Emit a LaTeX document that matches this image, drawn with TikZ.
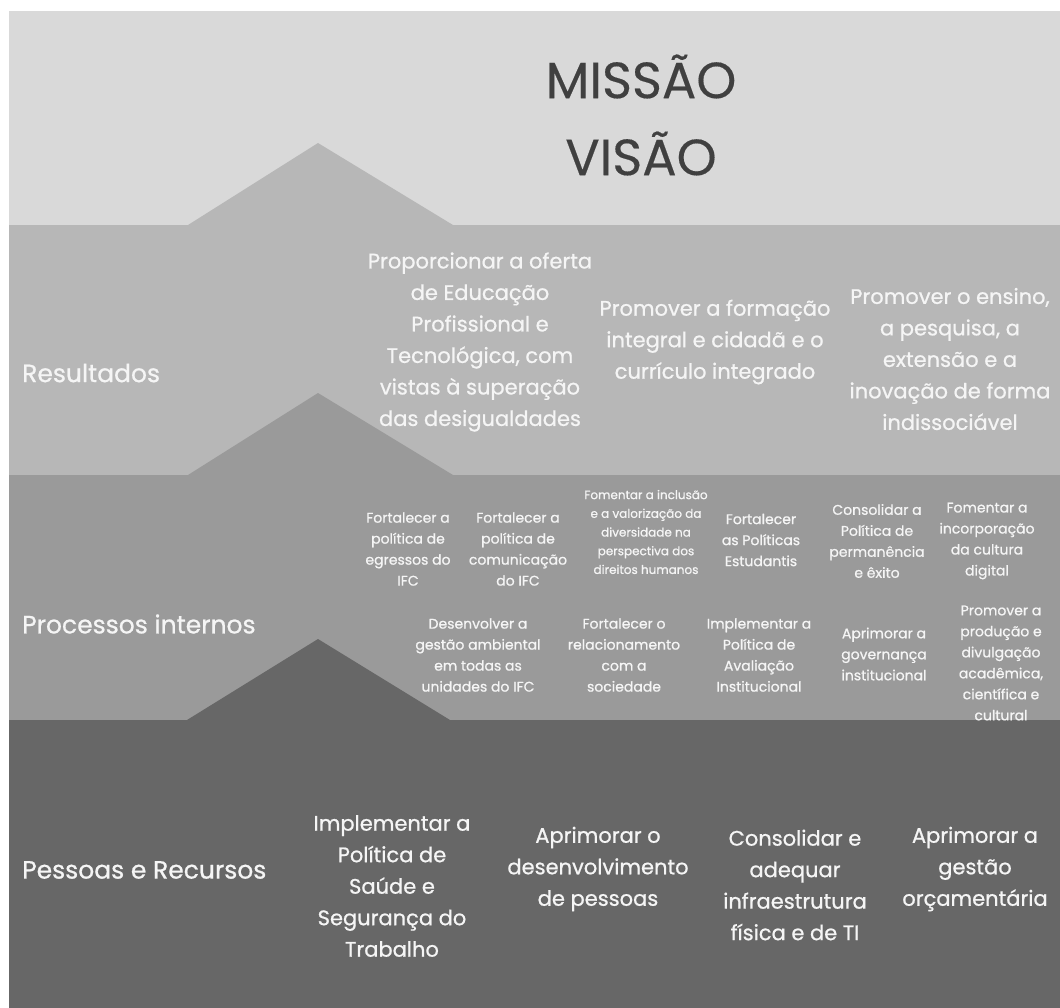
\documentclass[tikz,border=0pt]{standalone}
\usepackage{fontspec}
\setmainfont{Poppins}[FakeBold=0.8]
\newfontfamily\titlefont{Poppins}[FakeBold=0.3]
\definecolor{top}{HTML}{D9D9D9}
\definecolor{res}{HTML}{B7B7B7}
\definecolor{proc}{HTML}{9A9A9A}
\definecolor{pess}{HTML}{676767}
\definecolor{ink}{HTML}{404040}
\definecolor{paper}{HTML}{F5F5F5}

\begin{document}
\begin{tikzpicture}[x=1pt,y=-1pt,
  tier/.style={text=paper,anchor=west,inner sep=0pt,font=\fontsize{25}{30}\selectfont},
  aim/.style={text=paper,align=center,inner sep=0pt,font=\fontsize{21}{31.5}\selectfont},
  act/.style={text=paper,align=center,inner sep=0pt,font=\fontsize{14}{21}\selectfont},
  actsmall/.style={text=paper,align=center,inner sep=0pt,font=\fontsize{12}{18.7}\selectfont}
]
\useasboundingbox[fill=white] (0,0) rectangle (1060,1008);
% bands, from the top down
\fill[top] (9,11) rectangle (1060,225);
\fill[res] (9,225) rectangle (1060,475);
\fill[res] (188,225) -- (318,143) -- (453,225) -- cycle;
\fill[proc] (9,475) rectangle (1060,720);
\fill[proc] (188,475) -- (318,393) -- (453,475) -- cycle;
\fill[pess] (9,720) rectangle (1060,1008);
\fill[pess] (187,720) -- (318,639) -- (450,720) -- cycle;

\node[text=ink,align=center,inner sep=0pt,font=\titlefont\fontsize{51}{77}\selectfont] (mv) at (641,115) {MISSÃO\\VISÃO};

% Resultados
\node[tier] (res) at (22,373) {Resultados};
\node[aim] (r1) at (480,342) {Proporcionar a oferta\\de Educação\\Profissional e\\Tecnológica, com\\vistas à superação\\das desigualdades};
\node[aim] (r2) at (715,342) {Promover a formação\\integral e cidadã e o\\currículo integrado};
\node[aim] (r3) at (950,359) {Promover o ensino,\\a pesquisa, a\\extensão e a\\inovação de forma\\indissociável};

% Processos internos
\node[tier] (proc) at (22,624) {Processos internos};
\node[act] (p1) at (408,549) {Fortalecer a\\política de\\egressos do\\IFC};
\node[act] (p2) at (518,549) {Fortalecer a\\política de\\comunicação\\do IFC};
\node[actsmall] (p3) at (646,532) {Fomentar a inclusão\\e a valorização da\\diversidade na\\perspectiva dos\\direitos humanos};
\node[act] (p4) at (761,540) {Fortalecer\\as Políticas\\Estudantis};
\node[act] (p5) at (877,541) {Consolidar a\\Política de\\permanência\\e êxito};
\node[act] (p6) at (987,541) {Fomentar a\\incorporação\\da cultura\\digital};
\node[act] (p7) at (478,655) {Desenvolver a\\gestão ambiental\\em todas as\\unidades do IFC};
\node[act] (p8) at (624,655) {Fortalecer o\\relacionamento\\com a\\sociedade};
\node[act] (p9) at (759,655) {Implementar a\\Política de\\Avaliação\\Institucional};
\node[act] (p10) at (884,654) {Aprimorar a\\governança\\institucional};
\node[act] (p11) at (1001,663) {Promover a\\produção e\\divulgação\\acadêmica,\\científica e\\cultural};

% Pessoas e Recursos
\node[tier] (pess) at (22,870) {Pessoas e Recursos};
\node[aim] (s1) at (392,886) {Implementar a\\Política de\\Saúde e\\Segurança do\\Trabalho};
\node[aim] (s2) at (598,869) {Aprimorar o\\desenvolvimento\\de pessoas};
\node[aim] (s3) at (795,885) {Consolidar e\\adequar\\infraestrutura\\física e de TI};
\node[aim] (s4) at (975,869) {Aprimorar a\\gestão\\orçamentária};
\end{tikzpicture}
\end{document}
